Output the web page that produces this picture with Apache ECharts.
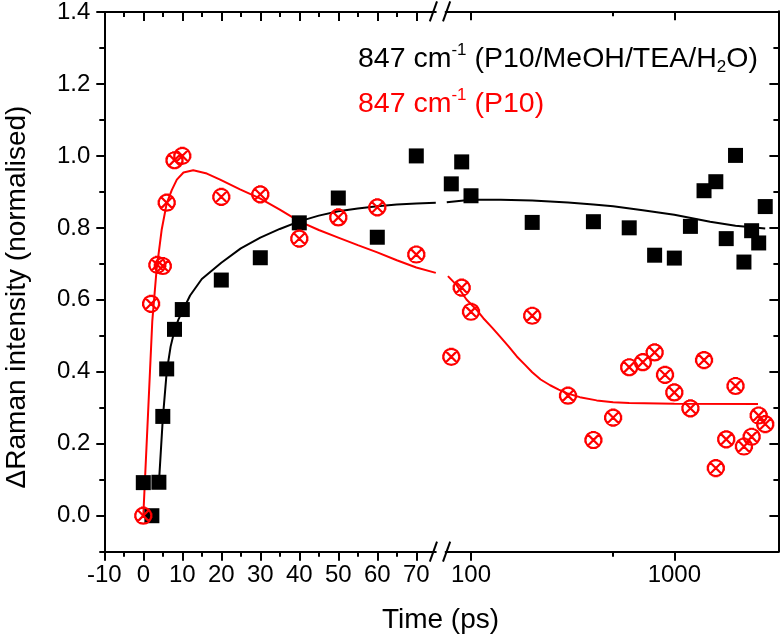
<!DOCTYPE html>
<html>
<head>
<meta charset="utf-8">
<script src="https://cdn.jsdelivr.net/npm/echarts@6/dist/echarts.min.js"></script>
<style>
html,body{margin:0;padding:0;background:#fff;}
#chart{width:780px;height:637px;}
</style>
</head>
<body>
<div id="chart"></div>
<script>
// ---- data ----
const blackLinT = [0, 2.2, 4, 5, 6, 8, 10, 20, 30, 40, 50, 60, 70];
const blackLinV = [0.092, 0.0, 0.093, 0.276, 0.408, 0.518, 0.573, 0.655, 0.717, 0.814, 0.883, 0.774, 1.0];
const blackLogT = [80, 90, 100, 200, 400, 600, 800, 1000, 1200, 1400, 1600, 1800, 2000, 2200, 2400, 2600, 2800];
const blackLogV = [0.921, 0.982, 0.888, 0.814, 0.816, 0.799, 0.723, 0.715, 0.803, 0.902, 0.927, 0.769, 1.0, 0.704, 0.791, 0.757, 0.858];

const redLinT = [0, 2, 3.6, 5, 6, 8, 10, 20, 30, 40, 50, 60, 70];
const redLinV = [0.0, 0.589, 0.697, 0.694, 0.870, 0.988, 1.0, 0.886, 0.893, 0.770, 0.829, 0.857, 0.726];
const redLogT = [80, 90, 100, 200, 300, 400, 500, 600, 700, 800, 900, 1000, 1200, 1400, 1600, 1800, 2000, 2200, 2400, 2600, 2800];
const redLogV = [0.441, 0.633, 0.566, 0.555, 0.333, 0.210, 0.272, 0.412, 0.426, 0.453, 0.391, 0.342, 0.298, 0.432, 0.132, 0.212, 0.360, 0.192, 0.219, 0.278, 0.254];

// fitted curves
const blackFitLinT = [4, 5, 6, 7, 8, 9, 10, 12, 15, 20, 25, 30, 35, 40, 45, 50, 55, 60, 65, 70, 75];
const blackFitLinV = [0.09, 0.27, 0.40, 0.47, 0.515, 0.545, 0.568, 0.612, 0.658, 0.703, 0.743, 0.773, 0.797, 0.818, 0.834, 0.846, 0.854, 0.860, 0.865, 0.868, 0.870];
const blackFitLogT = [76, 100, 140, 200, 300, 400, 500, 700, 1000, 1500, 2000, 2800];
const blackFitLogV = [0.870, 0.877, 0.877, 0.875, 0.869, 0.864, 0.859, 0.848, 0.835, 0.816, 0.805, 0.797];

const redFitLinT = [0, 1.2, 2.3, 3.4, 4.7, 6, 7.3, 8.6, 10.3, 12.8, 16.3, 19.7, 24.8, 29.9, 35, 40, 45, 50, 55, 60, 65, 70, 75];
const redFitLinV = [0.0, 0.28, 0.54, 0.683, 0.794, 0.868, 0.905, 0.934, 0.954, 0.960, 0.951, 0.934, 0.907, 0.882, 0.851, 0.818, 0.794, 0.773, 0.752, 0.732, 0.710, 0.690, 0.675];
const redFitLogT = [77, 85, 95, 107, 115, 127, 139, 153, 168, 185, 200, 220, 245, 270, 296, 343, 415, 500, 600, 1000, 2580];
const redFitLogV = [0.665, 0.64, 0.60, 0.57, 0.548, 0.522, 0.497, 0.47, 0.442, 0.418, 0.398, 0.378, 0.362, 0.350, 0.340, 0.329, 0.320, 0.315, 0.313, 0.311, 0.310];

// axis ticks
const xLinTicks = [-10, 0, 10, 20, 30, 40, 50, 60, 70];
const xLinMinor = [-5, 5, 15, 25, 35, 45, 55, 65];
const xLogTicks = [100, 1000];
const xLogMinor = [500];
const yTicks = [0, 0.2, 0.4, 0.6, 0.8, 1.0, 1.2, 1.4];
const yMinor = [-0.1, 0.1, 0.3, 0.5, 0.7, 0.9, 1.1, 1.3];

const legend1 = ['847 cm', '-1', ' (P10/MeOH/TEA/H', '2', 'O)'];
const legend2 = ['847 cm', '-1', ' (P10)'];

const FONT = "'Liberation Sans', Arial, Helvetica, sans-serif";
const zip = (a, b) => a.map((v, i) => [v, b[i]]);

const chart = echarts.init(document.getElementById('chart'), null, {renderer: 'canvas'});

const grids = [
  {left: 104.3, top: 11.3, width: 331.5, height: 540.4},
  {left: 445.6, top: 11.3, width: 332.8, height: 540.4}
];

function xAx(grid, type, pos, ticks, len, inside, labels, showLine) {
  const o = {
    gridIndex: grid, type: type, position: pos,
    min: type === 'log' ? 75 : -10, max: type === 'log' ? 3250 : 75,
    axisLine: {show: showLine, onZero: false, lineStyle: {color: '#000', width: 2}},
    axisTick: {show: true, inside: inside, length: len, customValues: ticks, lineStyle: {color: '#000', width: 2}},
    axisLabel: labels ? {show: true, customValues: ticks, fontSize: 24, color: '#000', fontFamily: FONT, margin: 12,
      formatter: v => String(Math.round(Number(v)))} : {show: false},
    splitLine: {show: false}
  };
  if (type === 'log') o.logBase = 10;
  return o;
}
function yAx(grid, pos, ticks, len, inside, labels, showLine) {
  return {
    gridIndex: grid, type: 'value', position: pos, min: -0.1, max: 1.4,
    axisLine: {show: showLine, onZero: false, lineStyle: {color: '#000', width: 2}},
    axisTick: {show: true, inside: inside, length: len, customValues: ticks, lineStyle: {color: '#000', width: 2}},
    axisLabel: labels ? {show: true, customValues: ticks, fontSize: 24, color: '#000', fontFamily: FONT, margin: 14,
      formatter: v => Number(v).toFixed(1)} : {show: false},
    splitLine: {show: false}
  };
}

const xAxes = [
  xAx(0, 'value', 'bottom', xLinTicks, 9, false, true, true),
  xAx(0, 'value', 'bottom', xLinMinor, 5, false, false, false),
  xAx(0, 'value', 'top', xLinTicks, 9, true, false, true),
  xAx(0, 'value', 'top', xLinMinor, 5, true, false, false),
  xAx(1, 'log', 'bottom', xLogTicks, 9, false, true, true),
  xAx(1, 'log', 'bottom', xLogMinor, 5, false, false, false),
  xAx(1, 'log', 'top', xLogTicks, 9, true, false, true),
  xAx(1, 'log', 'top', xLogMinor, 5, true, false, false)
];
const yAxes = [
  yAx(0, 'left', yTicks, 8, false, true, true),
  yAx(0, 'left', yMinor, 5, false, false, false),
  yAx(1, 'right', yTicks, 9, true, false, true),
  yAx(1, 'right', yMinor, 5, true, false, false)
];

const OTIMES = 'path://M10,0A10,10,0,1,1,10,20A10,10,0,1,1,10,0ZM2.93,2.93L17.07,17.07M17.07,2.93L2.93,17.07M7,0L13,0M7,20L13,20M0,7L0,13M20,7L20,13';

function fit(x, y, data, color) {
  return {type: 'line', xAxisIndex: x, yAxisIndex: y, data: data, showSymbol: false, symbol: 'none',
    lineStyle: {color: color, width: 2, opacity: 1}, smooth: false, silent: true, z: 2, clip: false};
}
function sqr(x, y, data) {
  return {type: 'scatter', xAxisIndex: x, yAxisIndex: y, data: data, symbol: 'rect', symbolSize: 15,
    itemStyle: {color: '#000', opacity: 1}, z: 3, clip: false};
}
function otm(x, y, data) {
  return {type: 'scatter', xAxisIndex: x, yAxisIndex: y, data: data, symbol: OTIMES, symbolSize: 16,
    itemStyle: {color: 'rgba(0,0,0,0)', borderColor: '#ff0000', borderWidth: 2.2, opacity: 1}, z: 4, clip: false};
}

const richMain = (c) => ({
  a: {fontSize: 28.5, lineHeight: 34, fontFamily: FONT, fill: c, color: c},
  sup: {fontSize: 17, lineHeight: 22, fontFamily: FONT, verticalAlign: 'top', fill: c, color: c},
  sub: {fontSize: 17, lineHeight: 20, fontFamily: FONT, verticalAlign: 'bottom', fill: c, color: c}
});

const option = {
  animation: false,
  backgroundColor: '#fff',
  textStyle: {fontFamily: FONT},
  grid: grids,
  xAxis: xAxes,
  yAxis: yAxes,
  series: [
    fit(0, 0, zip(blackFitLinT, blackFitLinV), '#000'),
    fit(4, 2, zip(blackFitLogT, blackFitLogV), '#000'),
    fit(0, 0, zip(redFitLinT, redFitLinV), '#ff0000'),
    fit(4, 2, zip(redFitLogT, redFitLogV), '#ff0000'),
    sqr(0, 0, zip(blackLinT, blackLinV)),
    sqr(4, 2, zip(blackLogT, blackLogV)),
    otm(0, 0, zip(redLinT, redLinV)),
    otm(4, 2, zip(redLogT, redLogV))
  ],
  graphic: [
    {type: 'text', left: 358, top: 42, z: 10, style: {
      text: '{a|' + legend1[0] + '}{sup|' + legend1[1] + '}{a|' + legend1[2] + '}{sub|' + legend1[3] + '}{a|' + legend1[4] + '}',
      rich: richMain('#000'), fill: '#000'}},
    {type: 'text', left: 358, top: 87, z: 10, style: {
      text: '{a|' + legend2[0] + '}{sup|' + legend2[1] + '}{a|' + legend2[2] + '}',
      rich: richMain('#ff0000'), fill: '#ff0000'}},
    {type: 'text', x: 440.5, y: 620, z: 10, style: {text: 'Time (ps)', font: '28px ' + FONT, fill: '#000', align: 'center', verticalAlign: 'middle'}},
    {type: 'text', x: 17, y: 297, rotation: Math.PI / 2, z: 10, style: {text: 'ΔRaman intensity (normalised)', font: '28px ' + FONT, fill: '#000', align: 'center', verticalAlign: 'middle'}},
    // axis break marks
    {type: 'line', z: 10, shape: {x1: 429.8, y1: 21.3, x2: 437, y2: 1.3}, style: {stroke: '#000', lineWidth: 2}},
    {type: 'line', z: 10, shape: {x1: 443, y1: 21.3, x2: 450.2, y2: 1.3}, style: {stroke: '#000', lineWidth: 2}},
    {type: 'line', z: 10, shape: {x1: 429.8, y1: 561.7, x2: 437, y2: 541.7}, style: {stroke: '#000', lineWidth: 2}},
    {type: 'line', z: 10, shape: {x1: 443, y1: 561.7, x2: 450.2, y2: 541.7}, style: {stroke: '#000', lineWidth: 2}}
  ]
};
chart.setOption(option);
</script>
</body>
</html>
